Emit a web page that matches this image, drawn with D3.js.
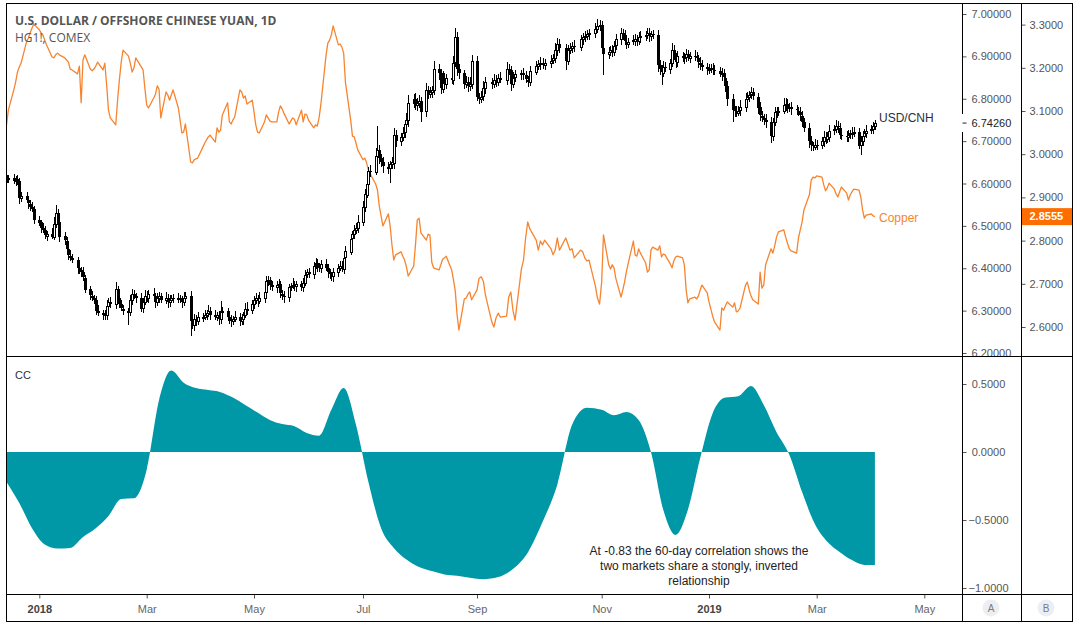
<!DOCTYPE html>
<html><head><meta charset="utf-8">
<script src="https://cdn.jsdelivr.net/npm/d3@7/dist/d3.min.js"></script>
<style>body{margin:0;background:#fff}svg{display:block}</style>
</head><body>
<svg id="c" width="1079" height="627"></svg>
<script>
// ---------------- DATA ----------------
const startDate = "2017-12-14";           // first daily bar (weekdays follow)
const usdOpen0 = 6.608;
// USD/CNH daily closes (Dec 2017 .. 3 Apr 2019)
const usdClose = [
6.610,6.612,6.606,6.611,6.605,6.565,6.570,6.560,6.552,6.545,6.540,6.515,
6.508,6.495,6.490,6.478,6.482,6.475,6.505,6.530,6.510,6.475,6.465,6.445,6.430,6.425,6.420,6.400,6.395,6.390,6.378,6.350,6.335,6.330,6.325,
6.300,6.295,6.290,6.288,6.310,6.320,6.315,6.350,6.330,6.315,6.305,6.300,6.296,6.325,6.340,6.335,6.330,6.305,6.320,6.335,
6.330,6.340,6.335,6.320,6.330,6.335,6.325,6.330,6.320,6.325,6.330,6.328,6.330,6.325,6.320,6.330,6.335,6.275,6.265,6.280,6.275,6.285,
6.285,6.290,6.295,6.300,6.290,6.285,6.290,6.280,6.300,6.300,6.285,6.280,6.275,6.280,6.285,6.275,6.280,6.290,6.305,6.300,6.315,
6.325,6.330,6.322,6.330,6.345,6.370,6.372,6.360,6.355,6.360,6.362,6.340,6.335,6.332,6.355,6.358,6.360,6.358,6.362,6.355,6.365,6.385,6.390,
6.385,6.405,6.412,6.405,6.400,6.410,6.400,6.390,6.385,6.380,6.390,6.400,6.405,6.400,6.425,6.440,6.470,6.480,6.490,6.495,6.510,
6.545,6.575,6.600,6.630,6.628,6.665,6.680,6.660,6.650,6.640,6.635,6.645,6.650,6.715,6.700,6.710,6.720,6.740,6.750,6.790,6.800,6.785,
6.790,6.795,6.770,6.820,6.810,6.815,6.820,6.870,6.860,6.825,6.850,6.835,6.850,6.845,6.885,6.945,6.870,6.860,6.835,6.840,6.830,6.835,6.890,
6.805,6.800,6.805,6.825,6.840,6.835,6.845,6.840,6.850,6.845,6.870,6.868,6.835,6.850,6.858,6.860,6.855,6.845,6.840,6.865,
6.878,6.882,6.885,6.880,6.885,6.890,6.895,6.915,6.930,6.920,6.890,6.915,6.920,6.925,6.922,6.940,6.945,6.948,6.952,6.955,6.965,6.972,6.975,
6.920,6.905,6.910,6.915,6.912,6.925,6.940,6.955,6.950,6.935,6.930,6.935,6.938,6.942,6.935,6.945,6.948,6.950,6.955,6.948,6.952,6.950,
6.880,6.870,6.862,6.875,6.872,6.885,6.915,6.900,6.885,6.900,6.895,6.898,6.905,6.898,6.902,6.900,6.895,6.885,6.880,6.875,6.870,
6.870,6.872,6.868,6.866,6.860,6.855,6.850,6.830,6.800,6.775,6.770,6.768,6.772,6.780,6.800,6.805,6.810,6.815,6.805,6.780,6.760,6.755,6.750,
6.745,6.712,6.745,6.768,6.770,6.772,6.785,6.788,6.778,6.780,6.775,6.772,6.768,6.760,6.745,6.730,6.700,6.690,6.688,6.692,
6.690,6.700,6.710,6.705,6.712,6.725,6.728,6.735,6.732,6.715,6.712,6.710,6.715,6.718,6.720,6.722,6.690,6.700,6.712,6.720,6.725,
6.728,6.735,6.7426];
// upper / lower wick beyond the candle body, in thousandths
const usdWickUp = [
9,7,11,7,9,7,11,9,7,9,11,7,
9,7,11,9,7,13,16,20,9,7,11,9,7,13,9,7,11,9,13,7,9,11,7,
9,13,7,11,16,9,11,18,9,7,11,9,7,13,11,9,7,11,9,13,
11,9,13,7,11,9,7,13,9,11,7,9,11,7,9,13,9,11,7,13,9,11,
9,11,7,13,9,11,7,9,22,9,7,11,9,7,13,9,11,7,13,16,11,
9,11,7,13,16,11,9,7,11,9,13,7,9,11,9,7,18,11,9,7,13,11,9,
11,9,13,11,7,9,13,11,9,7,11,9,13,11,9,13,11,9,13,11,16,
13,11,16,9,13,18,55,11,9,13,11,9,13,16,11,9,13,11,16,18,11,13,
11,13,9,16,11,13,9,18,13,11,16,11,9,13,16,22,13,11,9,13,11,16,13,
11,9,13,16,11,9,13,11,9,13,16,11,9,13,11,9,13,11,9,13,
11,9,13,11,9,13,11,16,13,11,9,13,11,9,13,11,9,13,11,9,13,16,11,
9,13,11,9,13,11,13,11,9,13,11,9,13,11,9,13,11,9,13,11,9,11,
13,11,9,13,11,9,16,11,9,13,11,9,13,11,9,13,11,9,13,11,9,
11,9,13,11,9,13,16,11,13,11,9,13,11,16,13,11,9,13,11,9,13,11,9,
13,11,9,13,11,9,16,13,11,9,13,11,9,13,11,9,13,11,9,13,
11,9,13,11,9,13,11,16,13,11,9,13,11,9,13,11,9,13,11,9,13,
11,9,7];
const usdWickDn = [
7,9,7,11,9,13,9,7,11,9,7,11,
9,11,7,9,13,7,9,11,7,13,9,7,11,9,7,13,9,11,7,9,11,7,9,
11,7,13,9,11,7,9,11,13,9,7,11,30,9,11,7,13,9,11,7,
9,11,7,13,9,11,7,9,13,11,7,9,11,7,13,9,11,35,9,13,11,9,
11,7,13,9,11,7,9,13,11,7,9,11,13,9,7,11,9,13,7,11,9,
11,9,13,7,11,9,13,11,9,13,7,11,9,13,11,9,7,11,13,9,11,7,9,
9,11,7,13,9,11,7,13,11,9,13,11,7,9,13,11,9,13,11,9,11,
11,13,9,11,13,9,11,13,11,16,13,34,11,16,13,11,9,13,11,16,13,11,
13,11,25,13,11,9,13,11,16,13,11,9,13,11,13,11,16,13,11,9,13,11,13,
11,13,9,11,13,11,9,13,11,9,13,11,16,9,11,13,11,9,13,11,
9,11,13,9,11,13,9,11,13,11,22,11,9,13,11,9,13,11,9,13,11,9,13,
13,49,11,9,13,11,9,13,11,9,13,11,9,13,11,9,13,11,9,13,11,9,
16,13,30,11,9,13,11,9,13,11,9,13,11,9,13,11,9,13,11,9,13,
11,9,13,11,9,13,11,13,16,30,13,11,9,13,11,9,13,11,9,16,13,11,13,
13,16,11,9,13,11,9,13,11,9,13,11,9,13,11,9,16,13,11,9,
11,9,13,11,9,13,11,9,13,11,9,13,11,9,13,11,9,22,11,9,13,
9,11,9];
// HG1! copper, same bars
const copper = [
3.068,3.102,3.149,3.167,3.190,3.202,3.211,3.260,3.269,3.281,3.292,3.301,
3.288,3.281,3.276,3.264,3.253,3.225,3.223,3.230,3.234,3.230,3.223,3.218,3.213,3.197,3.195,3.186,3.204,3.119,3.218,3.230,3.197,3.193,3.197,
3.204,3.213,3.195,3.211,3.160,3.102,3.084,3.068,3.125,3.172,3.213,3.241,3.227,3.211,3.190,3.200,3.223,3.202,3.195,3.153,
3.114,3.107,3.130,3.139,3.158,3.151,3.084,3.144,3.137,3.125,3.137,3.149,3.107,3.079,3.049,3.051,3.070,2.982,2.980,2.987,2.989,2.991,
3.017,3.026,3.033,3.040,3.044,3.028,3.061,3.051,3.056,3.091,3.119,3.075,3.070,3.079,3.086,3.149,3.144,3.130,3.135,3.116,3.125,
3.098,3.068,3.051,3.049,3.075,3.091,3.084,3.077,3.075,3.075,3.098,3.112,3.105,3.095,3.070,3.077,3.084,3.081,3.068,3.102,3.075,3.093,3.091,
3.079,3.061,3.068,3.065,3.084,3.114,3.230,3.257,3.264,3.276,3.297,3.253,3.255,3.248,3.234,3.167,3.079,3.042,3.040,3.026,3.010,
2.987,2.991,2.980,2.963,2.954,2.931,2.917,2.880,2.857,2.834,2.862,2.834,2.790,2.755,2.767,2.774,2.764,2.755,2.739,2.718,2.741,2.790,
2.848,2.852,2.818,2.801,2.815,2.813,2.750,2.737,2.732,2.744,2.757,2.760,2.764,2.732,2.709,2.683,2.628,2.593,2.665,2.667,2.676,2.681,2.663,
2.686,2.713,2.716,2.706,2.674,2.612,2.600,2.621,2.632,2.623,2.625,2.669,2.681,2.639,2.616,2.734,2.755,2.806,2.843,2.827,
2.801,2.778,2.799,2.790,2.801,2.781,2.767,2.778,2.806,2.778,2.806,2.792,2.778,2.781,2.760,2.778,2.774,2.760,2.753,2.755,2.695,2.667,2.653,
2.705,2.813,2.744,2.734,2.744,2.737,2.713,2.669,2.686,2.704,2.727,2.746,2.799,2.767,2.764,2.781,2.771,2.748,2.727,2.732,2.778,2.785,
2.778,2.788,2.762,2.769,2.767,2.746,2.737,2.753,2.762,2.764,2.760,2.744,2.686,2.656,2.665,2.669,2.665,2.672,2.686,2.697,2.679,
2.658,2.642,2.625,2.612,2.593,2.644,2.639,2.649,2.658,2.646,2.656,2.635,2.637,2.644,2.697,2.704,2.686,2.672,2.663,2.653,2.727,2.690,2.697,
2.744,2.781,2.771,2.788,2.808,2.820,2.825,2.808,2.794,2.781,2.776,2.771,2.806,2.825,2.843,2.871,2.906,2.940,2.947,2.945,
2.950,2.947,2.929,2.915,2.922,2.933,2.919,2.908,2.901,2.913,2.924,2.910,2.894,2.906,2.913,2.919,2.917,2.901,2.871,2.852,2.859,
2.862,2.857,2.8555];
// 60-day correlation coefficient, sampled every 5th bar (last = final bar)
const ccStep = 5;
const ccValues = [-0.22,-0.375,-0.56,-0.68,-0.71,-0.705,-0.625,-0.56,-0.47,-0.345,-0.34,-0.13,0.38,0.60,0.51,0.47,0.455,0.44,0.40,0.345,
0.29,0.235,0.205,0.19,0.14,0.12,0.31,0.47,0.20,-0.22,-0.56,-0.705,-0.79,-0.845,-0.875,-0.90,-0.91,-0.925,-0.935,-0.92,
-0.86,-0.74,-0.515,-0.24,0.20,0.325,0.31,0.27,0.295,0.235,0.0,-0.425,-0.61,-0.425,-0.045,0.285,0.40,0.41,0.485,0.345,
0.145,-0.02,-0.295,-0.53,-0.66,-0.735,-0.795,-0.83,-0.83];
const usdTicks = [6.2,6.3,6.4,6.5,6.6,6.7,6.8,6.9,7.0];
const cuTicks = [2.6,2.7,2.8,2.9,3.0,3.1,3.2,3.3];
const ccTicks = [-1,-0.5,0,0.5];
const monthTickDates = ["2018-01-01","2018-03-01","2018-05-01","2018-07-02","2018-09-03","2018-11-01","2019-01-01","2019-03-01","2019-05-01"];
const monthTickLabels = ["2018","Mar","May","Jul","Sep","Nov","2019","Mar","May"];
const lastUsd = 6.7426, lastCu = 2.8555;
const titleText = "U.S. DOLLAR / OFFSHORE CHINESE YUAN, 1D";
const subTitle = "HG1!, COMEX";
const noteLines = ["At -0.83 the 60-day correlation shows the","two markets share a stongly, inverted","relationship"];

// ---------------- LAYOUT ----------------
const L=6.5,R=1072.5,T=3.5,B=621.5,AX1=962.5,AX2=1021.5,DIV=356.5,TAX=594.5;
const FONT='"Liberation Sans", Arial, sans-serif';
const parse = d3.utcParse("%Y-%m-%d");
const dates=[]; {let d=parse(startDate); while(dates.length<usdClose.length){const w=d.getUTCDay(); if(w!==0&&w!==6) dates.push(d); d=d3.utcDay.offset(d,1);}}

const x = d3.scaleUtc().domain(monthTickDates.map(parse)).range([39.3,146.7,254,363,477,601.7,709,816.7,924.3]);
const usdY = d3.scaleLinear().domain([6.2,7.0]).range([353,14]);
const cuY = d3.scaleLinear().domain([2.6,3.3]).range([327,24.6]);
const ccY = d3.scaleLinear().domain([-1,0.5]).range([588,384]);

const svg = d3.select("#c");
const defs = svg.append("defs");
defs.append("clipPath").attr("id","cTop").append("rect").attr("x",L).attr("y",T).attr("width",AX1-L).attr("height",DIV-T);
defs.append("clipPath").attr("id","cBot").append("rect").attr("x",L).attr("y",DIV).attr("width",AX1-L).attr("height",TAX-DIV);
defs.append("clipPath").attr("id","cAxTop").append("rect").attr("x",AX1).attr("y",T).attr("width",R-AX1).attr("height",DIV-T);
defs.append("clipPath").attr("id","cAxBot").append("rect").attr("x",AX1).attr("y",DIV).attr("width",R-AX1).attr("height",TAX-DIV);

// copper line
const gTop = svg.append("g").attr("clip-path","url(#cTop)");
gTop.append("path").datum(copper.map((v,i)=>({d:dates[i],v})))
  .attr("fill","none").attr("stroke","#f7842f").attr("stroke-width",1.3).attr("stroke-linejoin","round")
  .attr("d", d3.line().x(p=>x(p.d)).y(p=>cuY(p.v)));

// candles
const bars = usdClose.map((c,i)=>{const o=i?usdClose[i-1]:usdOpen0;
  return {d:dates[i],o,c,h:Math.max(o,c)+(usdWickUp[i]||0)/1000,l:Math.min(o,c)-(usdWickDn[i]||0)/1000};});
const gC = gTop.append("g").attr("shape-rendering","crispEdges");
gC.selectAll("line").data(bars).join("line")
  .attr("x1",b=>Math.round(x(b.d))+0.5).attr("x2",b=>Math.round(x(b.d))+0.5)
  .attr("y1",b=>usdY(b.h)).attr("y2",b=>usdY(b.l)).attr("stroke","#000").attr("stroke-width",1);
gC.selectAll("rect").data(bars).join("rect")
  .attr("x",b=>Math.round(x(b.d))-1+(b.c>=b.o?0.5:0))
  .attr("y",b=>Math.round(usdY(Math.max(b.o,b.c)))+(b.c>=b.o?0.5:0))
  .attr("width",b=>b.c>=b.o?2:3)
  .attr("height",b=>Math.max(1,Math.round(usdY(Math.min(b.o,b.c))-usdY(Math.max(b.o,b.c)))))
  .attr("fill",b=>b.c>=b.o?"#fff":"#000").attr("stroke",b=>b.c>=b.o?"#000":"none").attr("stroke-width",1);

// series labels
svg.append("text").attr("x",879).attr("y",usdY(lastUsd)-5).attr("dy","0.35em").text("USD/CNH")
  .attr("font-family",FONT).attr("font-size",12).attr("fill","#2a2e39");
svg.append("text").attr("x",879).attr("y",cuY(lastCu)+1).attr("dy","0.35em").text("Copper")
  .attr("font-family",FONT).attr("font-size",12).attr("fill","#f7842f");

// titles
svg.append("text").attr("x",15).attr("y",25).text(titleText).attr("font-family",'"Open Sans", sans-serif')
  .attr("font-weight",700).attr("font-size",12).attr("fill","#555");
svg.append("text").attr("x",15).attr("y",42).text(subTitle).attr("font-family",'"Open Sans", sans-serif')
  .attr("font-size",12).attr("fill","#555");

// CC area
const ccPts = ccValues.map((v,i)=>({d:dates[Math.min(i*ccStep,dates.length-1)],v}));
svg.append("g").attr("clip-path","url(#cBot)").append("path").datum(ccPts)
  .attr("fill","#0097a7")
  .attr("d", d3.area().curve(d3.curveMonotoneX).x(p=>x(p.d)).y0(ccY(0)).y1(p=>ccY(p.v)));
svg.append("text").attr("x",15).attr("y",379).text("CC").attr("font-family",FONT).attr("font-size",11).attr("fill","#333");

// annotation
const note = svg.append("text").attr("font-family",FONT).attr("font-size",12).attr("fill","#222").attr("text-anchor","middle");
noteLines.forEach((t,i)=>note.append("tspan").attr("x",699).attr("y",555+i*15).text(t));

// axes
function styleAxis(g){g.select(".domain").remove(); g.selectAll("text").attr("font-family",FONT).attr("font-size",11).attr("fill","#555"); g.selectAll("line").attr("stroke","#555");}
svg.append("g").attr("clip-path","url(#cAxTop)").append("g").attr("transform",`translate(${AX1},0)`)
  .call(d3.axisRight(usdY).tickValues(usdTicks).tickFormat(d3.format(".5f")).tickSize(4).tickPadding(5)).call(styleAxis);
svg.append("g").attr("clip-path","url(#cAxTop)").append("g").attr("transform",`translate(${AX2},0)`)
  .call(d3.axisRight(cuY).tickValues(cuTicks).tickFormat(d3.format(".4f")).tickSize(4).tickPadding(4)).call(styleAxis);
const gcc = svg.append("g").attr("clip-path","url(#cAxBot)").append("g").attr("transform",`translate(${AX1},0)`)
  .call(d3.axisRight(ccY).tickValues(ccTicks).tickFormat(d3.format(".4f")).tickSize(4)).call(styleAxis);
gcc.selectAll("text").attr("text-anchor","middle").attr("x",26);
const gt = svg.append("g").attr("transform",`translate(0,${TAX})`)
  .call(d3.axisBottom(x).tickValues(monthTickDates.map(parse)).tickFormat((d,i)=>monthTickLabels[i]).tickSize(4).tickPadding(7)).call(styleAxis);
gt.selectAll("text").attr("font-weight",(d,i)=>/^\d{4}$/.test(monthTickLabels[i])?"bold":null)
  .attr("fill",(d,i)=>/^\d{4}$/.test(monthTickLabels[i])?"#444":"#666");

// last value markers
const lu = svg.append("g");
lu.append("rect").attr("x",AX1-0.5).attr("y",usdY(lastUsd)-9).attr("width",AX2-AX1).attr("height",18).attr("fill","#fff");
lu.append("line").attr("x1",AX1).attr("x2",AX1+4).attr("y1",usdY(lastUsd)).attr("y2",usdY(lastUsd)).attr("stroke","#222");
lu.append("text").attr("x",AX1+9).attr("y",usdY(lastUsd)).attr("dy","0.35em").text(d3.format(".5f")(lastUsd))
  .attr("font-family",FONT).attr("font-size",11).attr("fill","#222");
const lc = svg.append("g");
lc.append("rect").attr("x",AX2).attr("y",cuY(lastCu)-8.5).attr("width",R-AX2).attr("height",17).attr("fill","#ff6d00");
lc.append("text").attr("x",AX2+8).attr("y",cuY(lastCu)).attr("dy","0.35em").text(d3.format(".4f")(lastCu))
  .attr("font-family",FONT).attr("font-size",11).attr("font-weight","bold").attr("fill","#fff");

// frame
const fr = svg.append("g").attr("stroke","#000").attr("stroke-width",1).attr("fill","none").attr("shape-rendering","crispEdges");
fr.append("rect").attr("x",L).attr("y",T).attr("width",R-L).attr("height",B-T);
[[L,DIV,R,DIV],[L,TAX,R,TAX],[AX1,T,AX1,usdY(lastUsd)-9],[AX1,usdY(lastUsd)+9,AX1,B],[AX2,T,AX2,B]].forEach(s=>
  fr.append("line").attr("x1",s[0]).attr("y1",s[1]).attr("x2",s[2]).attr("y2",s[3]));

// scale buttons
[["A",991],["B",1046]].forEach(([t,cx])=>{
  svg.append("circle").attr("cx",cx).attr("cy",608).attr("r",8.5).attr("fill","#eceef2");
  svg.append("text").attr("x",cx).attr("y",608).attr("dy","0.35em").attr("text-anchor","middle").text(t)
    .attr("font-family",FONT).attr("font-size",10).attr("fill","#787b86");
});
</script>
</body></html>
